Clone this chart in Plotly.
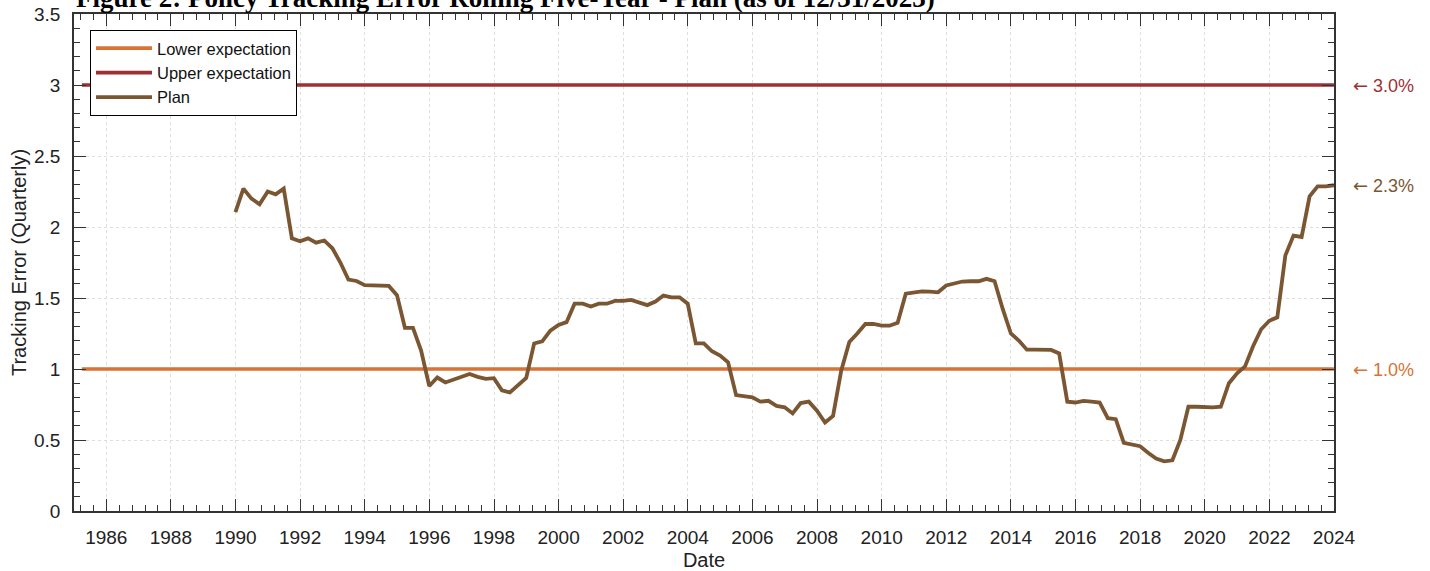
import plotly.graph_objects as go

# ---------------- data ----------------
def quarter_ends(y0, q0, y1, q1):
    ends = {1: "03-31", 2: "06-30", 3: "09-30", 4: "12-31"}
    out = []
    y, q = y0, q0
    while (y, q) <= (y1, q1):
        out.append(f"{y}-{ends[q]}")
        q += 1
        if q == 5:
            q, y = 1, y + 1
    return out

plan_dates = quarter_ends(1989, 4, 2023, 4)   # 137 quarter-ends
plan_te = [
    2.105, 2.27, 2.20, 2.16, 2.25, 2.23, 2.27, 1.92, 1.90, 1.92, 1.89, 1.905,
    1.85, 1.75, 1.63, 1.62, 1.59, 1.59, 1.59, 1.585, 1.52, 1.29, 1.29, 1.13,
    0.88, 0.94, 0.905, 0.925, 0.95, 0.965, 0.945, 0.93, 0.935, 0.85, 0.835, 0.887,
    0.937, 1.18, 1.195, 1.27, 1.31, 1.33, 1.46, 1.46, 1.44, 1.46, 1.46, 1.48,
    1.48, 1.487, 1.47, 1.45, 1.475, 1.517, 1.505, 1.505, 1.46, 1.18, 1.18, 1.125,
    1.094, 1.047, 0.816, 0.81, 0.80, 0.77, 0.776, 0.74, 0.73, 0.687, 0.76, 0.77,
    0.706, 0.623, 0.67, 0.988, 1.19, 1.25, 1.317, 1.317, 1.305, 1.305, 1.325, 1.53,
    1.54, 1.547, 1.545, 1.54, 1.588, 1.60, 1.616, 1.618, 1.618, 1.635, 1.618, 1.423,
    1.25, 1.20, 1.136, 1.136, 1.136, 1.134, 1.11, 0.77, 0.764, 0.776, 0.77, 0.764,
    0.654, 0.647, 0.48, 0.466, 0.456, 0.41, 0.37, 0.35, 0.357, 0.50, 0.734, 0.734,
    0.73, 0.73, 0.734, 0.90, 0.97, 1.018, 1.16, 1.28, 1.34, 1.364, 1.80, 1.94,
    1.93, 2.216, 2.286, 2.286, 2.294,
]

expect_span = ["1985-03-31", "2023-12-31"]
lower_level = 1.0
upper_level = 3.0

series_names = ["Lower expectation", "Upper expectation", "Plan"]
end_labels = ["1.0%", "3.0%", "2.3%"]
title_text = "Figure 2: Policy Tracking Error Rolling Five-Year - Plan (as of 12/31/2023)"

# ---------------- style ----------------
C_LOWER = "#D77334"
C_UPPER = "#9E3034"
C_PLAN = "#7B5632"
AX = "#333333"
GRID = "#dedede"
FONT = "Liberation Sans, Arial, Helvetica, sans-serif"

fig = go.Figure()
fig.add_trace(go.Scatter(x=expect_span, y=[lower_level, lower_level], mode="lines",
                         name=series_names[0], line=dict(color=C_LOWER, width=3.6)))
fig.add_trace(go.Scatter(x=expect_span, y=[upper_level, upper_level], mode="lines",
                         name=series_names[1], line=dict(color=C_UPPER, width=3.6)))
fig.add_trace(go.Scatter(x=plan_dates, y=plan_te, mode="lines",
                         name=series_names[2], line=dict(color=C_PLAN, width=3.8)))

end_vals = [lower_level, upper_level, plan_te[-1]]
end_cols = [C_LOWER, C_UPPER, C_PLAN]
for txt, v, c in zip(end_labels, end_vals, end_cols):
    fig.add_annotation(x=1.0, xref="paper", y=v, yref="y",
                       text="<span style='font-family:DejaVu Sans'>\u2190</span> " + txt,
                       showarrow=False, xanchor="left", xshift=17, yanchor="middle",
                       font=dict(family=FONT, size=18, color=c))

fig.add_annotation(x=0, xref="paper", y=1, yref="paper", text=f"<b>{title_text}</b>",
                   showarrow=False, xanchor="left", yanchor="bottom", yshift=-1,
                   font=dict(family="Liberation Serif, Times New Roman, serif", size=27, color="#000"))

year_ms = 365.25 * 24 * 3600 * 1000
fig.update_xaxes(
    type="date", range=["1985-01-01", "2024-01-01"], automargin=False,
    tick0="1986-01-01", dtick="M24", tickformat="%Y",
    ticks="inside", ticklen=12, tickwidth=1.2, tickcolor=AX,
    showline=True, linecolor=AX, linewidth=1.5, mirror="allticks",
    showgrid=True, gridcolor=GRID, griddash="dot", gridwidth=1,
    zeroline=False, ticklabelstandoff=8,
    tickfont=dict(family=FONT, size=19, color="#222"),
    title=dict(text="Date", font=dict(family=FONT, size=20, color="#222"), standoff=6),
    minor=dict(ticks="inside", ticklen=6, tickwidth=1.2, tickcolor=AX,
               tick0="1986-01-01", dtick=0.4 * year_ms, showgrid=False),
)
fig.update_yaxes(
    range=[0, 3.5], tick0=0, dtick=0.5, automargin=False,
    ticks="inside", ticklen=12, tickwidth=1.2, tickcolor=AX,
    showline=True, linecolor=AX, linewidth=1.5, mirror="allticks",
    showgrid=True, gridcolor=GRID, griddash="dot", gridwidth=1,
    zeroline=False, ticklabelstandoff=8,
    tickfont=dict(family=FONT, size=19, color="#222"),
    title=dict(text="Tracking Error (Quarterly)", font=dict(family=FONT, size=20, color="#222"), standoff=2),
    minor=dict(ticks="inside", ticklen=6, tickwidth=1.2, tickcolor=AX, dtick=0.1, showgrid=False),
)

fig.update_layout(
    width=1430, height=571,
    margin=dict(l=74, r=96, t=14, b=60),
    paper_bgcolor="white", plot_bgcolor="white",
    showlegend=True,
    legend=dict(x=0.0127, y=0.968, xanchor="left", yanchor="top",
                bgcolor="white", bordercolor="#000", borderwidth=1,
                font=dict(family=FONT, size=16.5, color="#111"),
                itemwidth=56, tracegroupgap=0),
)

fig.write_html("out.html", config={"displayModeBar": False},
               post_script="document.body.style.margin='0';document.body.style.overflow='hidden';")
